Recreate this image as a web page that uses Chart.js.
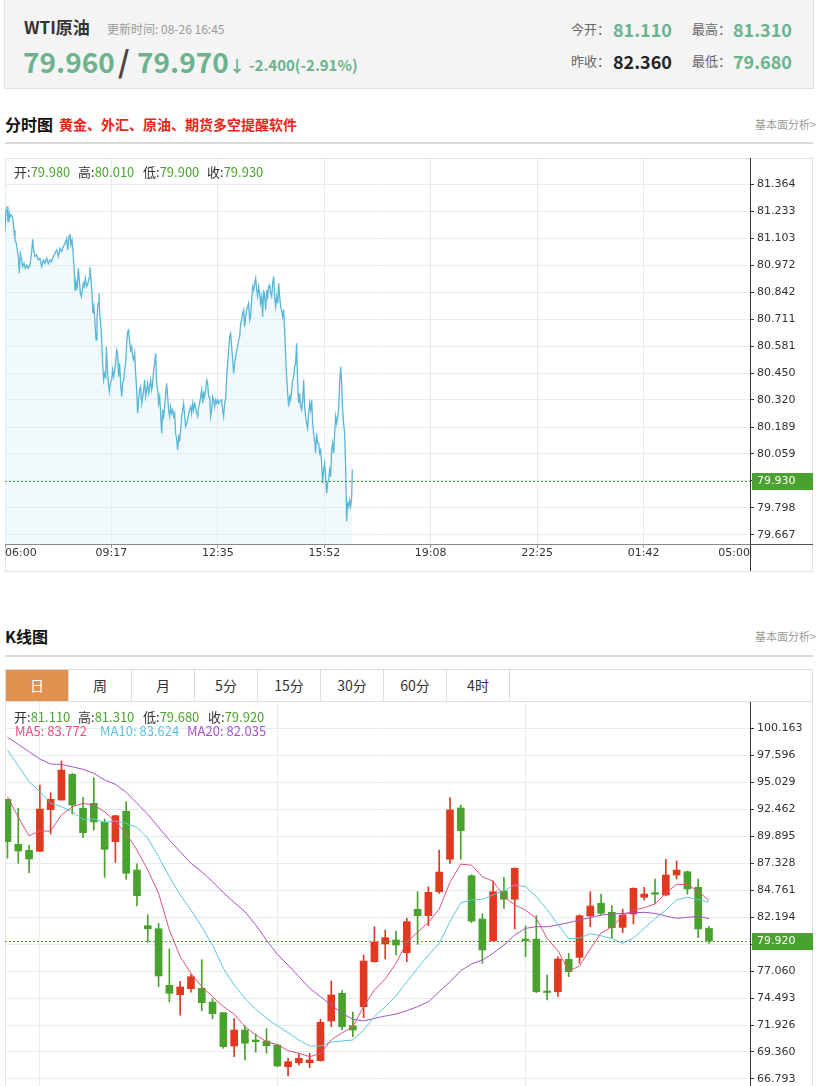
<!DOCTYPE html>
<html><head><meta charset="utf-8">
<script src="https://cdn.jsdelivr.net/npm/chart.js@4.4.1/dist/chart.umd.min.js"></script>
<style>
html,body{margin:0;padding:0;background:#fff;width:820px;height:1086px;overflow:hidden;}
body{position:relative;font-family:"Noto Sans CJK SC","Noto Sans",sans-serif;color:#333;}
.a{position:absolute;white-space:nowrap;}
.hdr{position:absolute;left:4px;top:-1px;width:808px;height:88px;background:#f4f4f4;border:1px solid #e2e2e2;}
.grn{color:#6ab38c;}
.rule{position:absolute;left:5px;width:808px;height:2px;background:#d9d9d9;}
.box{position:absolute;border:1px solid #e3e3e3;box-sizing:border-box;}
.tabs{position:absolute;left:5px;top:669px;width:808px;height:33px;border:1px solid #dcdcdc;box-sizing:border-box;background:#fff;}
.tab{position:absolute;top:0;width:62px;height:31px;line-height:31px;text-align:center;font-size:14px;color:#333;border-right:1px solid #dcdcdc;}
.lg{position:absolute;white-space:nowrap;font-size:13px;line-height:18px;z-index:5;}
.lg .k{color:#333;} .lg .g{color:#4ba52f;}
canvas{position:absolute;}
</style></head>
<body>
<div class="hdr"></div>
<div class="a" style="left:24px;top:16px;font-size:17px;line-height:22px;font-weight:bold;color:#333;">WTI原油</div>
<div class="a" style="left:107px;top:20px;font-size:12px;line-height:18px;color:#999;">更新时间: 08-26 16:45</div>
<div class="a grn" style="left:23px;top:42px;font-size:28px;line-height:38px;font-weight:bold;">79.960</div>
<div class="a" style="left:118px;top:41px;font-size:30px;line-height:38px;font-weight:bold;color:#4d4440;">/</div>
<div class="a grn" style="left:137px;top:42px;font-size:28px;line-height:38px;font-weight:bold;">79.970</div>
<div class="a grn" style="left:229px;top:54px;font-size:16px;line-height:22px;font-weight:bold;">↓</div>
<div class="a grn" style="left:249px;top:55px;font-size:15px;line-height:20px;font-weight:bold;">-2.400(-2.91%)</div>
<div class="a" style="left:571px;top:20px;font-size:13px;line-height:18px;color:#666;">今开：</div>
<div class="a grn" style="left:613px;top:17px;font-size:18px;line-height:24px;font-weight:bold;">81.110</div>
<div class="a" style="left:692px;top:20px;font-size:13px;line-height:18px;color:#666;">最高：</div>
<div class="a grn" style="left:733px;top:17px;font-size:18px;line-height:24px;font-weight:bold;">81.310</div>
<div class="a" style="left:571px;top:52px;font-size:13px;line-height:18px;color:#666;">昨收：</div>
<div class="a" style="left:613px;top:49px;font-size:18px;line-height:24px;font-weight:bold;color:#222;">82.360</div>
<div class="a" style="left:692px;top:52px;font-size:13px;line-height:18px;color:#666;">最低：</div>
<div class="a grn" style="left:733px;top:49px;font-size:18px;line-height:24px;font-weight:bold;">79.680</div>

<div class="a" style="left:5px;top:113px;font-size:16px;line-height:22px;font-weight:bold;color:#111;">分时图</div>
<div class="a" style="left:59px;top:114px;font-size:14px;line-height:20px;font-weight:bold;color:#e8261a;">黄金、外汇、原油、期货多空提醒软件</div>
<div class="a" style="right:4px;top:116px;font-size:11px;line-height:16px;color:#999;">基本面分析&gt;</div>
<div class="rule" style="top:142px;"></div>

<div class="box" style="left:5px;top:158px;width:808px;height:414px;"></div>
<canvas id="c1" width="808" height="413" style="left:5px;top:158px;width:808px;height:413px;"></canvas>
<div class="lg" style="left:14px;top:163px;"><span class="k">开:</span><span class="g">79.980</span></div>
<div class="lg" style="left:78px;top:163px;"><span class="k">高:</span><span class="g">80.010</span></div>
<div class="lg" style="left:143px;top:163px;"><span class="k">低:</span><span class="g">79.900</span></div>
<div class="lg" style="left:207px;top:163px;"><span class="k">收:</span><span class="g">79.930</span></div>

<div class="a" style="left:5px;top:625px;font-size:16px;line-height:22px;font-weight:bold;color:#111;">K线图</div>
<div class="a" style="right:4px;top:628px;font-size:11px;line-height:16px;color:#999;">基本面分析&gt;</div>
<div class="rule" style="top:655px;"></div>

<div class="box" style="left:5px;top:669px;width:808px;height:440px;"></div>
<div class="tabs">
  <div class="tab" style="left:0;background:#e3914f;color:#fff;">日</div>
  <div class="tab" style="left:63px;">周</div>
  <div class="tab" style="left:126px;">月</div>
  <div class="tab" style="left:189px;">5分</div>
  <div class="tab" style="left:252px;">15分</div>
  <div class="tab" style="left:315px;">30分</div>
  <div class="tab" style="left:378px;">60分</div>
  <div class="tab" style="left:441px;">4时</div>
</div>
<canvas id="c2" width="808" height="398" style="left:5px;top:702px;width:808px;height:398px;"></canvas>
<div class="lg" style="left:14px;top:708px;"><span class="k">开:</span><span class="g">81.110</span></div>
<div class="lg" style="left:78px;top:708px;"><span class="k">高:</span><span class="g">81.310</span></div>
<div class="lg" style="left:143px;top:708px;"><span class="k">低:</span><span class="g">79.680</span></div>
<div class="lg" style="left:208px;top:708px;"><span class="k">收:</span><span class="g">79.920</span></div>
<div class="lg" style="left:15px;top:722px;color:#e8507f;">MA5: 83.772</div>
<div class="lg" style="left:100px;top:722px;color:#5bc3dd;">MA10: 83.624</div>
<div class="lg" style="left:187px;top:722px;color:#a852c6;">MA20: 82.035</div>

<script>
// ---------- intraday (分时图) ----------
const timeLabels = ['06:00','09:17','12:35','15:52','19:08','22:25','01:42','05:00'];
const sessionMinutes = 1380;
const lineYTicks = ['81.364','81.233','81.103','80.972','80.842','80.711','80.581','80.450','80.320','80.189','80.059','79.928','79.798','79.667'];
const lineYMin = 79.623, lineYMax = 81.491;
const lineLast = 79.930;
const lineTimes = [
0,1.9,3.7,5.6,7.4,9.3,11.7,14.2,16.7,18.5,
20.4,22.8,24.7,26.5,28.4,30.9,32.7,35.2,37.7,40.1,
43.2,46.3,49.4,51.2,53.1,55.6,58.7,61.7,64.8,67.9,
71.0,74.1,77.2,80.3,83.3,86.4,89.5,92.6,95.7,98.8,
101.9,105.0,108.0,111.1,114.2,116.1,118.5,120.4,122.2,124.1,
125.9,127.8,129.7,131.5,134.0,135.8,137.7,139.5,141.4,143.2,
145.1,146.9,148.8,151.3,153.7,155.6,157.4,159.3,161.1,163.0,
164.8,166.7,168.6,170.4,172.3,174.1,175.3,177.2,179.0,180.9,
182.7,184.6,186.5,187.7,189.5,191.4,193.2,195.1,197.6,199.4,
201.3,203.1,205.0,206.8,208.7,210.5,212.4,214.2,216.1,217.9,
219.8,221.6,223.5,225.4,227.2,229.1,230.9,232.8,234.6,236.5,
238.3,240.2,242.0,243.9,245.7,247.6,249.4,251.3,253.1,255.0,
256.8,258.7,260.5,262.4,264.2,266.1,268.0,269.8,271.7,273.5,
275.4,277.2,279.1,280.9,282.8,284.6,286.5,288.3,290.2,292.0,
293.9,295.7,297.6,299.4,301.3,303.1,305.0,306.8,308.7,310.6,
312.4,314.3,316.1,318.0,319.8,321.7,323.5,325.4,327.2,329.1,
330.9,332.8,334.6,336.5,338.3,340.2,342.0,343.9,345.7,347.6,
349.4,351.3,353.2,355.0,356.9,358.7,360.6,362.4,364.3,366.1,
368.0,369.8,371.7,373.5,375.4,377.2,379.1,380.9,382.8,384.6,
386.5,388.3,390.2,392.0,393.9,395.8,397.6,399.5,401.3,403.2,
405.0,406.9,408.7,410.6,412.4,414.3,416.1,418.0,419.8,421.7,
423.5,425.4,427.2,429.1,430.9,432.8,434.7,436.5,438.4,440.2,
442.1,443.9,445.8,447.6,449.5,451.3,453.2,455.0,456.9,458.7,
460.6,462.4,464.3,466.1,468.0,469.8,471.7,473.5,475.4,477.3,
479.1,481.0,482.8,484.7,486.5,488.4,490.2,492.1,493.9,495.8,
497.6,499.5,501.3,503.2,505.0,506.9,508.7,510.6,512.4,514.3,
516.1,518.0,519.9,521.7,523.6,525.4,527.3,529.1,531.0,532.8,
534.7,536.5,538.4,540.2,542.1,543.9,545.8,547.6,549.5,551.3,
553.2,555.0,556.9,558.7,560.6,562.5,564.3,566.2,568.0,569.9,
571.7,573.6,575.4,577.3,579.1,581.0,582.8,584.7,586.5,588.4,
590.2,592.1,593.9,595.8,597.6,599.5,601.3,603.2,605.1,606.9,
608.8,610.6,612.5,614.3,616.2,618.0,619.9,621.7,623.6,625.4,
627.3,629.1,631.0,632.8,634.7,636.5,638.4,640.2,642.1,643.3];
const linePrices = [
81.135,81.239,81.259,81.183,81.231,81.207,81.215,81.199,81.143,81.094,
81.086,81.046,81.014,80.933,81.030,80.998,80.965,80.981,80.957,80.973,
80.957,80.973,81.038,81.098,81.046,81.014,81.022,80.998,81.006,80.965,
80.998,80.981,81.006,80.981,80.998,80.990,81.014,81.030,81.046,81.014,
81.054,81.038,81.062,81.078,81.102,81.046,81.110,81.119,81.070,81.094,
81.046,80.965,80.852,80.893,80.869,80.957,80.901,80.836,80.820,80.852,
80.885,80.869,80.909,80.869,80.885,80.909,80.965,80.901,80.836,80.740,
80.772,80.691,80.611,80.723,80.788,80.836,80.740,80.691,80.619,80.498,
80.417,80.449,80.433,80.578,80.481,80.401,80.361,80.401,80.417,80.465,
80.433,80.465,80.498,80.562,80.546,80.433,80.498,80.401,80.336,80.401,
80.417,80.465,80.498,80.594,80.651,80.659,80.602,80.562,80.578,80.530,
80.514,80.546,80.449,80.369,80.256,80.320,80.369,80.385,80.304,80.336,
80.369,80.417,80.336,80.369,80.401,80.352,80.385,80.417,80.369,80.401,
80.465,80.498,80.546,80.401,80.369,80.304,80.336,80.256,80.159,80.272,
80.240,80.288,80.352,80.401,80.336,80.272,80.240,80.288,80.256,80.272,
80.240,80.256,80.159,80.127,80.078,80.143,80.127,80.175,80.240,80.272,
80.304,80.240,80.191,80.207,80.223,80.256,80.272,80.288,80.256,80.304,
80.272,80.304,80.288,80.256,80.240,80.288,80.304,80.336,80.369,80.304,
80.352,80.336,80.369,80.417,80.401,80.336,80.336,80.240,80.272,80.336,
80.320,80.288,80.320,80.304,80.320,80.304,80.312,80.320,80.320,80.272,
80.240,80.304,80.328,80.433,80.498,80.562,80.627,80.643,80.578,80.514,
80.449,80.498,80.530,80.562,80.578,80.611,80.627,80.691,80.707,80.740,
80.756,80.675,80.723,80.756,80.772,80.788,80.707,80.723,80.804,80.869,
80.852,80.885,80.909,80.852,80.820,80.869,80.836,80.788,80.820,80.723,
80.852,80.820,80.756,80.852,80.820,80.869,80.877,80.836,80.820,80.885,
80.917,80.820,80.772,80.820,80.788,80.885,80.820,80.772,80.756,80.723,
80.756,80.659,80.530,80.433,80.352,80.288,80.336,80.320,80.369,80.417,
80.433,80.481,80.498,80.594,80.401,80.304,80.352,80.288,80.272,80.320,
80.417,80.288,80.240,80.207,80.183,80.256,80.304,80.272,80.320,80.207,
80.159,80.127,80.062,80.159,80.111,80.111,80.062,80.078,80.014,79.917,
79.982,80.014,79.949,79.869,79.917,79.933,79.982,79.949,80.078,80.111,
80.062,80.159,80.240,80.207,80.240,80.272,80.401,80.481,80.401,80.272,
80.207,80.159,79.998,79.732,79.820,79.804,79.836,79.804,79.844,79.982];

// ---------- daily K line (K线图) ----------
const kOpen = [93.38,89.11,88.54,88.44,92.40,93.32,95.76,92.53,93.00,91.20,
89.36,92.25,86.66,81.37,81.08,75.70,74.81,75.38,75.42,74.11,
73.10,69.93,71.45,70.50,70.40,70.02,67.96,68.34,68.34,68.53,
72.31,74.94,71.86,73.67,77.95,79.63,80.01,78.80,82.93,82.32,
84.60,87.68,92.56,86.12,82.00,79.94,84.67,83.88,80.10,80.10,
75.16,75.09,78.17,78.36,82.29,83.50,82.64,81.21,82.48,84.07,
84.51,84.29,86.19,86.50,85.02,81.11];
const kHigh = [93.40,92.53,89.01,94.75,94.01,97.03,95.86,93.57,95.44,91.51,
91.87,93.16,87.24,82.41,81.60,79.15,76.08,76.75,78.14,74.43,
73.10,72.53,71.86,71.07,71.58,70.10,68.76,69.24,69.24,72.47,
76.11,75.19,73.16,78.58,81.27,80.96,80.86,82.07,84.60,85.08,
88.56,93.54,92.84,86.22,82.48,85.62,85.97,86.88,81.34,82.32,
76.68,78.42,78.74,82.40,84.60,84.38,83.27,82.95,84.98,85.02,
85.81,87.68,87.52,86.57,85.81,81.31];
const kLow = [87.78,87.30,86.41,88.40,90.09,93.30,91.99,89.74,90.47,85.97,
87.39,85.78,83.24,79.79,75.57,74.11,72.85,75.04,73.29,72.53,
69.71,68.91,68.60,69.33,69.24,67.95,67.08,68.12,67.87,68.50,
71.77,71.45,70.81,72.62,77.90,78.20,78.58,77.95,79.60,81.37,
84.45,87.30,87.68,81.66,77.79,79.90,83.02,81.05,78.42,75.00,
74.30,74.62,76.52,77.79,81.27,82.38,80.17,80.70,81.53,83.81,
83.43,84.20,85.81,84.36,80.23,79.68];
const kClose = [89.36,88.47,87.71,92.46,93.38,96.17,92.84,90.21,91.23,88.63,
91.83,86.35,84.22,81.08,76.59,74.94,75.54,76.52,74.05,73.00,
69.86,71.45,70.19,70.34,69.96,68.03,68.44,68.76,68.60,72.18,
74.78,71.77,71.45,78.01,79.82,80.23,79.53,81.75,82.32,84.54,
86.47,92.37,90.40,81.81,79.06,84.60,83.88,86.82,79.94,75.09,
75.02,78.20,77.00,82.32,83.24,82.55,81.18,82.38,84.92,84.38,
84.36,86.19,86.66,84.86,81.05,79.92];
const ma5 = [93.63,91.68,89.92,90.37,90.37,91.89,92.68,93.00,92.84,92.21,
91.25,90.15,88.56,86.66,84.45,80.96,78.42,76.84,75.57,74.62,
73.67,72.97,71.77,70.98,70.34,70.07,69.48,69.24,68.91,69.22,
70.52,71.18,71.76,73.70,75.25,76.30,77.80,79.80,80.75,81.70,
82.95,85.50,87.22,87.12,86.02,85.60,84.13,83.34,82.86,82.07,
80.15,79.01,77.05,77.53,79.16,80.66,81.26,82.33,82.85,83.08,
83.44,84.45,85.30,85.29,84.62,83.77];
const ma10 = [98.07,96.55,95.06,94.11,93.00,92.68,92.21,91.48,91.52,91.20,
91.32,91.10,90.72,89.68,87.93,86.02,84.29,82.86,81.27,79.53,
77.32,75.73,74.46,73.42,72.56,71.85,71.20,70.50,69.93,69.93,
70.31,70.40,70.50,71.45,72.72,73.67,74.69,76.04,77.32,78.58,
79.69,81.75,83.56,83.81,83.88,84.29,84.70,85.24,85.08,84.13,
82.90,81.48,80.14,80.19,80.61,80.41,80.14,79.69,80.19,81.12,
82.05,82.85,83.82,84.07,83.85,83.62];
const ma20 = [99.28,98.61,97.91,97.22,96.74,96.71,96.48,96.24,95.86,95.22,
94.81,94.05,93.00,91.96,90.72,89.51,88.40,87.30,86.50,85.55,
84.51,83.59,82.70,81.44,79.99,78.65,77.63,76.52,75.42,74.62,
73.83,73.04,72.47,72.31,72.56,72.78,72.97,73.29,73.67,74.14,
75.09,76.04,77.09,77.73,78.11,78.74,79.53,80.48,81.12,81.27,
81.27,81.44,81.66,81.91,82.13,82.38,82.48,82.54,82.60,82.64,
82.54,82.29,82.07,82.16,82.26,82.04];
const kYTicks = ['100.163','97.596','95.029','92.462','89.895','87.328','84.761','82.194','79.627','77.060','74.493','71.926','69.360','66.793'];
const kYMin = 64.796, kYMax = 102.638;
const kXMin = -0.23, kXMax = 68.8;
const kMonthStarts = [3, 25, 48];
const kLast = 79.920;

// ---------- styles ----------
const UP = '#e0391f', DOWN = '#4aa22e', TAG = '#4aa22e';
const GRID = '#e3ecf0';
Chart.defaults.animation = false;
Chart.defaults.font.family = '"DejaVu Sans", sans-serif';

const noPad = s => { s.paddingTop = 0; s.paddingBottom = 0; s.paddingLeft = 0; s.paddingRight = 0; };

function priceTag(value){
  return {
    id: 'priceTag',
    afterDatasetsDraw(chart){
      const ctx = chart.ctx, a = chart.chartArea;
      const y = Math.round(chart.scales.y.getPixelForValue(value)) + 0.5;
      ctx.save();
      ctx.strokeStyle = TAG; ctx.lineWidth = 1; ctx.setLineDash([2,2]);
      ctx.beginPath(); ctx.moveTo(a.left, y); ctx.lineTo(a.right, y); ctx.stroke();
      ctx.restore();
    },
    afterDraw(chart){
      const ctx = chart.ctx, a = chart.chartArea;
      const y = chart.scales.y.getPixelForValue(value);
      ctx.save();
      ctx.strokeStyle = '#333'; ctx.lineWidth = 1;
      ctx.beginPath(); ctx.moveTo(a.right + 0.5, a.bottom); ctx.lineTo(a.right + 0.5, chart.height); ctx.stroke();
      ctx.fillStyle = TAG;
      ctx.fillRect(a.right + 2, Math.round(y) - 8, chart.width - a.right - 2, 17);
      ctx.fillStyle = '#fff'; ctx.font = '11px "DejaVu Sans"';
      ctx.textAlign = 'left'; ctx.textBaseline = 'middle';
      ctx.fillText(value.toFixed(3), a.right + 7, Math.round(y) + 0.5);
      ctx.restore();
    }
  };
}

const timeAxisLabels = {
  id: 'timeAxisLabels',
  afterDraw(chart){
    const ctx = chart.ctx, s = chart.scales.x, a = chart.chartArea;
    ctx.save();
    ctx.strokeStyle = '#555'; ctx.lineWidth = 1;
    ctx.beginPath(); ctx.moveTo(a.right, Math.round(a.bottom) + 0.5); ctx.lineTo(chart.width, Math.round(a.bottom) + 0.5); ctx.stroke();
    ctx.fillStyle = '#333'; ctx.font = '11px "DejaVu Sans"'; ctx.textBaseline = 'middle';
    const n = timeLabels.length - 1;
    timeLabels.forEach((t, k) => {
      const x = s.getPixelForValue(k * sessionMinutes / n);
      ctx.textAlign = k === 0 ? 'left' : (k === n ? 'right' : 'center');
      ctx.fillText(t, x, a.bottom + 9);
    });
    ctx.restore();
  }
};

new Chart(document.getElementById('c1'), {
  type: 'line',
  data: { datasets: [{
    data: lineTimes.map((t, i) => ({ x: t, y: linePrices[i] })),
    borderColor: '#58b7d6', borderWidth: 1.3, pointRadius: 0, tension: 0,
    fill: 'start', backgroundColor: 'rgba(222,239,249,0.4)'
  }]},
  options: {
    responsive: false, events: [], layout: { padding: 0 },
    plugins: { legend: { display: false }, tooltip: { enabled: false } },
    scales: {
      x: {
        type: 'linear', min: 0, max: sessionMinutes,
        afterBuildTicks: s => { const n = timeLabels.length - 1; s.ticks = timeLabels.map((_, k) => ({ value: k * sessionMinutes / n })); },
        ticks: { display: false },
        grid: { color: GRID, tickLength: 4, tickColor: '#999' },
        border: { color: '#8a8a8a' },
        afterFit: s => { s.height = 27; noPad(s); }
      },
      y: {
        position: 'right', min: lineYMin, max: lineYMax,
        afterBuildTicks: s => { s.ticks = lineYTicks.map(v => ({ value: parseFloat(v) })); },
        ticks: { callback: (v, i) => lineYTicks[i], color: '#333', font: { size: 11 }, padding: 3 },
        grid: { color: GRID, tickLength: 4, tickColor: '#333' },
        border: { color: '#333' },
        afterFit: s => { s.width = 63; noPad(s); }
      }
    }
  },
  plugins: [priceTag(lineLast), timeAxisLabels]
});

const idx = kClose.map((_, i) => i);
const kColors = idx.map(i => kClose[i] >= kOpen[i] ? UP : DOWN);
const maLine = (vals, color) => ({
  type: 'line', data: vals.map((v, i) => ({ x: i, y: v })),
  borderColor: color, borderWidth: 1, pointRadius: 0, tension: 0, order: 0
});

new Chart(document.getElementById('c2'), {
  type: 'bar',
  data: { datasets: [
    { data: idx.map(i => ({ x: i, y: [kLow[i], kHigh[i]] })), backgroundColor: kColors, barThickness: 1, grouped: false, order: 2 },
    { data: idx.map(i => ({ x: i, y: [kOpen[i], kClose[i]] })), backgroundColor: kColors, barThickness: 7, minBarLength: 1, grouped: false, order: 1 },
    maLine(ma5, '#e24f7e'),
    maLine(ma10, '#5cc5de'),
    maLine(ma20, '#a652c5')
  ]},
  options: {
    responsive: false, events: [], layout: { padding: 0 },
    plugins: { legend: { display: false }, tooltip: { enabled: false } },
    scales: {
      x: {
        type: 'linear', min: kXMin, max: kXMax, offset: false,
        afterBuildTicks: s => { s.ticks = kMonthStarts.map(v => ({ value: v })); },
        ticks: { display: false },
        grid: { color: GRID, drawTicks: false, offset: false },
        border: { display: false },
        afterFit: s => { s.height = 0; noPad(s); }
      },
      y: {
        position: 'right', min: kYMin, max: kYMax,
        afterBuildTicks: s => { s.ticks = kYTicks.map(v => ({ value: parseFloat(v) })); },
        ticks: { callback: (v, i) => kYTicks[i], color: '#333', font: { size: 11 }, padding: 3 },
        grid: { color: GRID, tickLength: 4, tickColor: '#333' },
        border: { color: '#333' },
        afterFit: s => { s.width = 63; noPad(s); }
      }
    }
  },
  plugins: [priceTag(kLast)]
});
</script>
</body></html>
